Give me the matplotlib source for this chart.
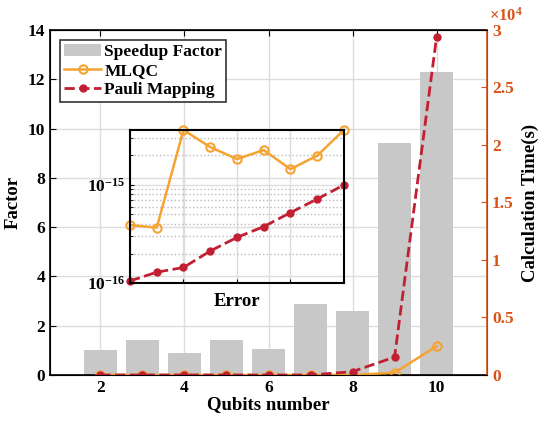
import numpy as np
import matplotlib
matplotlib.use('Agg')
import matplotlib.pyplot as plt
from matplotlib.ticker import FuncFormatter, LogLocator, NullFormatter

plt.rcParams['font.family'] = ['Liberation Serif', 'DejaVu Serif']
plt.rcParams['font.weight'] = 'bold'
plt.rcParams['mathtext.fontset'] = 'custom'
plt.rcParams['mathtext.rm'] = 'Liberation Serif:bold'
plt.rcParams['mathtext.bf'] = 'Liberation Serif:bold'
plt.rcParams['mathtext.it'] = 'Liberation Serif:bold:italic'

# data
qubits = [2, 3, 4, 5, 6, 7, 8, 9, 10]
speedup = [1.0, 1.4, 0.9, 1.4, 1.05, 2.9, 2.6, 9.4, 12.3]
mlqc_time = [0, 0, 0, 0, 0, 0, 0, 200, 2500]
pauli_time = [0, 0, 0, 0, 0, 0, 290, 1560, 29400]
mlqc_err = [3.9e-16, 3.67e-16, 3.64e-15, 2.43e-15, 1.84e-15, 2.27e-15, 1.45e-15, 1.99e-15, 3.64e-15]
pauli_err = [1.05e-16, 1.29e-16, 1.44e-16, 2.12e-16, 2.92e-16, 3.76e-16, 5.22e-16, 7.19e-16, 1.0e-15]

c_orange = '#F5A332'
c_red = '#C21F33'
c_axis = '#D95319'
c_bar = '#C8C8C8'
fs = 12.5
fl = 13.5

fig = plt.figure(figsize=(5.43, 4.24), dpi=100)
ax = fig.add_axes([0.0921, 0.1156, 0.8048, 0.8137])

bars = ax.bar(qubits, speedup, width=0.8, color=c_bar, zorder=2, label='Speedup Factor')
ax.set_xlim(0.8, 11.2)
ax.set_ylim(0, 14)
ax.set_xticks([2, 4, 6, 8, 10])
ax.set_yticks(range(0, 15, 2))
ax.grid(True, color='#DDDDDD', linewidth=1, zorder=0)
ax.set_axisbelow(True)
ax.tick_params(direction='in', top=True, labelsize=fs, length=4)
ax.set_xlabel('Qubits number', fontsize=fl, fontweight='bold', labelpad=0)
ax.set_ylabel('Factor', fontsize=fl, fontweight='bold', labelpad=4)

ax2 = ax.twinx()
l1, = ax2.plot(qubits, mlqc_time, '-o', color=c_orange, lw=1.8, ms=6,
               mfc='none', mew=1.5, label='MLQC')
l2, = ax2.plot(qubits, pauli_time, '--o', color=c_red, lw=2, ms=5,
               label='Pauli Mapping')
ax2.set_ylim(0, 30000)
ax2.set_yticks(np.arange(0, 30001, 5000))
ax2.yaxis.set_major_formatter(FuncFormatter(lambda v, p: '%g' % (v / 1e4)))
ax2.text(1.005, 1.04, r'$\times10^{4}$', transform=ax2.transAxes, color=c_axis,
         fontsize=12, ha='left', va='center')
ax2.tick_params(axis='y', direction='in', colors=c_axis, labelsize=fs, length=4)
ax2.spines['right'].set_color(c_axis)
ax2.spines['right'].set_linewidth(1.2)
ax2.set_ylabel('Calculation Time(s)', fontsize=fl, fontweight='bold', color='black', labelpad=6)
for s in ['left', 'top', 'bottom']:
    ax.spines[s].set_linewidth(1.2)

leg = ax2.legend([bars, l1, l2], ['Speedup Factor', 'MLQC', 'Pauli Mapping'],
                 loc='upper left', bbox_to_anchor=(0.023, 0.971), fontsize=fs,
                 frameon=True, fancybox=False, edgecolor='#333333', framealpha=1,
                 handlelength=2.1, handletextpad=0.2, borderpad=0.25,
                 labelspacing=0.15, borderaxespad=0)
leg.get_frame().set_linewidth(1.2)

# inset with error values
ins = fig.add_axes([0.2394, 0.3325, 0.394, 0.361])
ins.patch.set_alpha(0)
ins.plot(qubits, mlqc_err, '-o', color=c_orange, lw=1.8, ms=6, mfc='none', mew=1.5, clip_on=False)
ins.plot(qubits, pauli_err, '--o', color=c_red, lw=2, ms=5, clip_on=False)
ins.set_yscale('log')
ins.set_xlim(2, 10)
ins.set_ylim(1e-16, 3.64e-15)
ins.set_xticks([2, 4, 6, 8, 10])
ins.set_xticklabels([])
ins.set_yticks([1e-16, 1e-15])
ins.set_yticklabels([r'$10^{-16}$', r'$10^{-15}$'])
ins.yaxis.set_minor_locator(LogLocator(base=10, subs=np.arange(2, 10)))
ins.yaxis.set_minor_formatter(NullFormatter())
ins.grid(True, which='major', color='#DDDDDD', linewidth=1)
ins.grid(True, which='minor', axis='y', color='#BBBBBB', linestyle=':', linewidth=1)
ins.tick_params(which='both', direction='in', labelsize=fs, length=3)
ins.tick_params(which='minor', length=2)
for s in ins.spines.values():
    s.set_linewidth(1.5)
ins.set_xlabel('Error', fontsize=fl, fontweight='bold', labelpad=4)

fig.savefig('out.png', dpi=100)
